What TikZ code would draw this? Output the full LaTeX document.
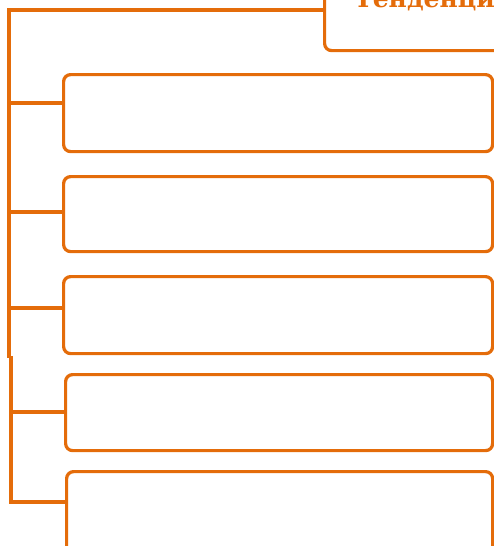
\documentclass[tikz,border=0pt]{standalone}
\usepackage{fontspec}
\newfontfamily\titlefont{DejaVu Serif}
\definecolor{org}{HTML}{E46C0A}
\begin{document}
\begin{tikzpicture}[x=1pt,y=-1pt,
  box/.style={draw=org, line width=3.2pt, rounded corners=7pt, fill=white, inner sep=0pt, anchor=north west},
  conn/.style={draw=org, line width=3.2pt}]
\useasboundingbox (0,0) rectangle (494,546);
\clip (0,0) rectangle (494,546);
% top box
\node[box, minimum width=220pt, minimum height=80pt] (tb) at (323,-31) {};
\node[anchor=base west, text=org, inner sep=0pt, font=\titlefont\bfseries\fontsize{25}{25}\selectfont] (title) at (354,8) {Тенденции};
% boxes
\node[box, minimum width=429pt, minimum height=77pt] (b1) at (62,73) {};
\node[box, minimum width=429pt, minimum height=75pt] (b2) at (62,175) {};
\node[box, minimum width=429pt, minimum height=77pt] (b3) at (62,275) {};
\node[box, minimum width=427pt, minimum height=76pt] (b4) at (64,373) {};
\node[box, minimum width=426pt, minimum height=90pt] (b5) at (65,470) {};
% trunk
\coordinate (t0) at (9,10);
\coordinate (t1) at (9,358);
\coordinate (t2) at (11,356);
\coordinate (t3) at (11,502);
\draw[conn] (tb.west |- t0) -- (t0) -- (t1);
\draw[conn] (t2) -- (t3) -- (t3 -| b5.west);
% branches
\coordinate (j1) at (9,103);
\coordinate (j2) at (9,212);
\coordinate (j3) at (9,308);
\coordinate (j4) at (11,412);
\draw[conn] (j1) -- (j1 -| b1.west);
\draw[conn] (j2) -- (j2 -| b2.west);
\draw[conn] (j3) -- (j3 -| b3.west);
\draw[conn] (j4) -- (j4 -| b4.west);
\end{tikzpicture}
\end{document}
